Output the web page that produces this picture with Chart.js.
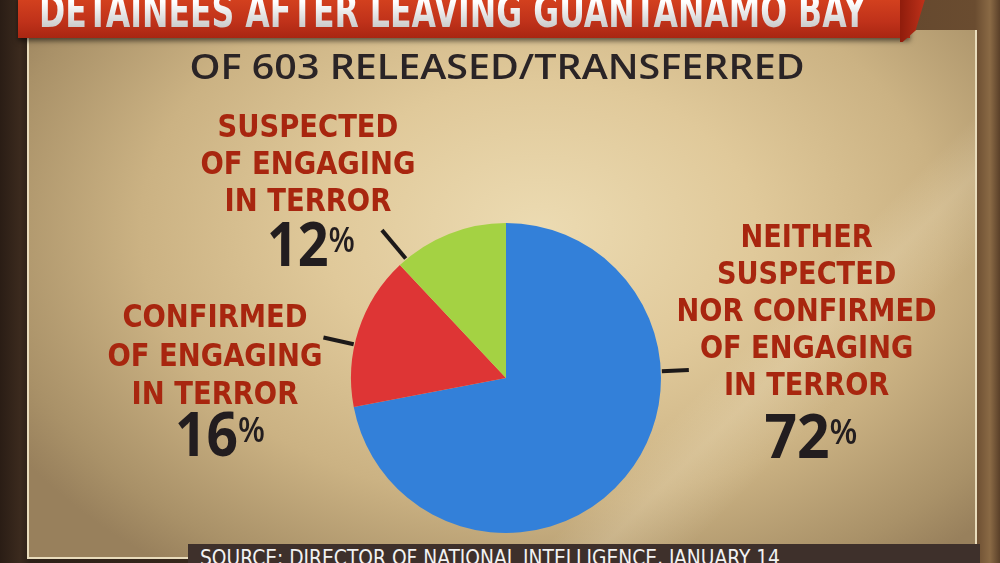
<!DOCTYPE html>
<html>
<head>
<meta charset="utf-8">
<script src="https://cdn.jsdelivr.net/npm/chart.js@4.4.1/dist/chart.umd.min.js"></script>
<style>
  html, body { margin:0; padding:0; width:1000px; height:563px; overflow:hidden; }
  body { position:relative; background:linear-gradient(90deg,#2a1d15 0%,#3b2a1e 2%,#2c2017 3%, #4a3524 50%, #6a4c30 97.5%, #8a6a45 99%, #5a4029 100%); font-family:"DejaVu Sans Condensed","DejaVu Sans",sans-serif; }
  #panel { position:absolute; left:27px; top:30px; width:946px; height:527px; border:2px solid #e9dcbc; border-top:none;
    background:
      linear-gradient(135deg, rgba(255,255,255,0) 70%, rgba(255,245,220,0.18) 74%, rgba(255,255,255,0) 80%),
      radial-gradient(ellipse 65% 80% at 54% 38%, #ecdbb2 0%, #e0c99a 35%, #cbb283 65%, #a99168 90%, #98805c 100%); }
  #banner { position:absolute; left:18px; top:-4px; width:892px; height:42px;
    background:linear-gradient(#d6431f,#c0321a 60%,#a92612); box-shadow:0 3px 5px rgba(0,0,0,0.55); }
  #fold { position:absolute; left:900px; top:-4px; width:26px; height:46px; background:linear-gradient(90deg,#8f1c0c,#c0321a);
    clip-path:polygon(0 0,100% 0,60% 75%,10% 100%,0 100%); }
  .txt { position:absolute; white-space:nowrap; text-align:center; }
  #title { font-size:46px; line-height:46px; font-weight:bold; color:#f4f4f4; top:-12px;
    background:linear-gradient(#ffffff 30%,#bdbdbd 100%); -webkit-background-clip:text; background-clip:text; -webkit-text-fill-color:transparent; }
  #subtitle { font-family:"Open Sans",sans-serif; font-weight:600; font-size:35px; line-height:35px; color:#2a2426; top:48px; }
  .lab { font-size:32px; font-weight:bold; color:#a8260f; }
  .pct { font-family:"Open Sans",sans-serif; font-weight:700; font-size:60px; line-height:60px; color:#221d1f; }
  .pct span { font-family:"Open Sans",sans-serif; font-weight:600; font-size:34px; line-height:34px; position:relative; top:-14px; }
  #srcbar { position:absolute; left:188px; top:544px; width:792px; height:19px; background:#3e302b; }
  #source { font-size:22px; line-height:22px; color:#f2f2f2; top:547px; text-align:left; }
  #c { position:absolute; left:0; top:0; }
</style>
</head>
<body>
<div id="panel"></div>
<div id="banner"></div>
<div id="fold"></div>
<canvas id="c" width="1000" height="563"></canvas>
<div id="srcbar"></div>
<script>
// ---- data ----
const titleText = "DETAINEES AFTER LEAVING GUANTANAMO BAY";
const subtitleText = "OF 603 RELEASED/TRANSFERRED";
const sourceText = "SOURCE: DIRECTOR OF NATIONAL INTELLIGENCE, JANUARY 14";
const categories = [
  ["NEITHER","SUSPECTED","NOR CONFIRMED","OF ENGAGING","IN TERROR"],
  ["CONFIRMED","OF ENGAGING","IN TERROR"],
  ["SUSPECTED","OF ENGAGING","IN TERROR"]
];
const values = [72, 16, 12];
const colors = ["#3380d9", "#de3535", "#a4d243"];

// ---- layout (styles/positions only) ----
const labelPos = [ {cx:807, top:218, lh:37, w:260}, {cx:215, top:297, lh:38.5, w:215}, {cx:308, top:108, lh:37, w:215} ];
const pctPos   = [ {cx:811, top:405, w:93}, {cx:220, top:403, w:90}, {cx:311, top:213, w:88} ];
const leaderAngles = [87.5, 282.5, 320];   // degrees clockwise from top
const leaderLens = [28, 32, 38];

function place(el, cx, w, origin) {
  document.body.appendChild(el);
  const nat = el.getBoundingClientRect().width;
  const s = w / nat;
  if (origin === 'left') {
    el.style.left = cx + 'px';
    el.style.transformOrigin = '0 0';
  } else {
    el.style.left = (cx - nat/2) + 'px';
    el.style.transformOrigin = '50% 0';
  }
  el.style.transform = 'scaleX(' + s + ')';
}
function mk(cls, id, html) {
  const d = document.createElement('div');
  d.className = 'txt ' + cls; if (id) d.id = id; d.innerHTML = html; return d;
}
place(mk('', 'title', titleText), 453, 827);
place(mk('', 'subtitle', subtitleText), 497, 615);
place(mk('', 'source', sourceText), 200, 580, 'left');

categories.forEach((lines, i) => {
  const p = labelPos[i];
  const d = mk('lab', null, lines.map(l => '<div>' + l + '</div>').join(''));
  d.style.lineHeight = p.lh + 'px';
  d.style.top = p.top + 'px';
  place(d, p.cx, p.w);
  const q = pctPos[i];
  const e = mk('pct', null, values[i] + '<span>%</span>');
  e.style.top = q.top + 'px';
  place(e, q.cx, q.w);
});

const leaderPlugin = {
  id: 'leaders',
  afterDatasetsDraw(chart) {
    const ctx = chart.ctx;
    const meta = chart.getDatasetMeta(0);
    meta.data.forEach((arc, i) => {
      const a = (leaderAngles[i] - 90) * Math.PI / 180;
      const r0 = arc.outerRadius + 1, r1 = arc.outerRadius + leaderLens[i];
      ctx.save();
      ctx.strokeStyle = '#1c1919';
      ctx.lineWidth = 4;
      ctx.beginPath();
      ctx.moveTo(arc.x + r0*Math.cos(a), arc.y + r0*Math.sin(a));
      ctx.lineTo(arc.x + r1*Math.cos(a), arc.y + r1*Math.sin(a));
      ctx.stroke();
      ctx.restore();
    });
  }
};

new Chart(document.getElementById('c'), {
  type: 'pie',
  data: {
    labels: categories.map(l => l.join(' ')),
    datasets: [{ data: values, backgroundColor: colors, borderWidth: 0 }]
  },
  options: {
    responsive: false,
    animation: false,
    layout: { padding: { left: 351, right: 339, top: 223, bottom: 30 } },
    plugins: { legend: { display: false }, tooltip: { enabled: false } }
  },
  plugins: [leaderPlugin]
});
</script>
</body>
</html>
